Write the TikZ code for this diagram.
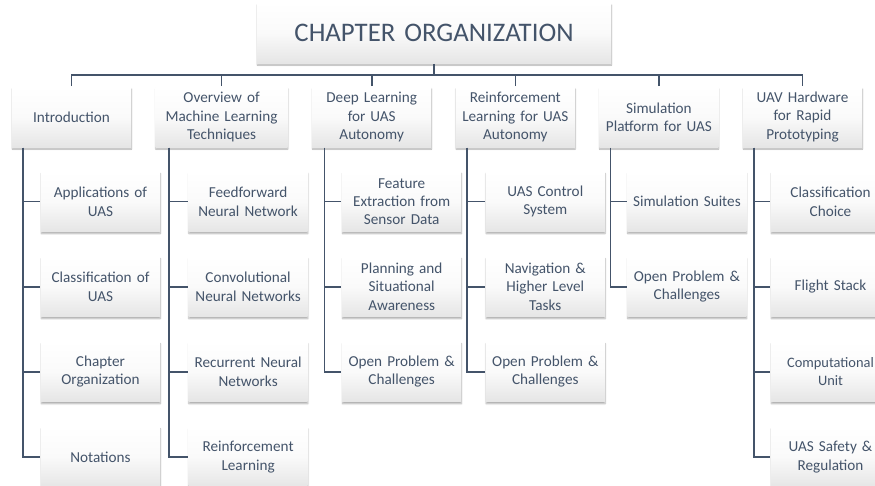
\documentclass[tikz,border=0pt]{standalone}
\usepackage{fontspec}
\setmainfont{Carlito}
\usepackage{tikz}
\usetikzlibrary{positioning,shadows.blur}
\definecolor{slate}{HTML}{44546A}

\begin{document}
\begin{tikzpicture}[x=1pt, y=1pt, node distance=23pt, line width=1.6pt, color=slate]

    \tikzstyle{topic}=[rectangle, minimum width=119pt, minimum height=60pt, text width=115pt, align=center, inner sep=0pt,
        top color=white, bottom color=black!10, middle color=black!2, text=slate, font=\fontsize{15.2}{18.4}\selectfont,
        blur shadow={shadow xshift=0.3pt, shadow yshift=-2pt, shadow blur radius=1.5pt, shadow blur steps=6, shadow opacity=32}]

    \useasboundingbox (0,0) rectangle (875,-485);

    \node[topic, minimum width=354pt, text width=340pt, font=\fontsize{26.8}{31}\selectfont] (chapter) at (434,-33) {CHAPTER ORGANIZATION};

    % section headers
    \node[topic]                                      (intro)              at (71.5,-117) {Introduction};
    \node[topic, minimum width=132pt, text width=126pt] (mlt) [right=of intro] {Overview of\\ Machine Learning\\ Techniques};
    \node[topic]                                      (dl)  [right=of mlt]   {Deep Learning\\ for UAS\\ Autonomy};
    \node[topic]                                      (rl)  [right=of dl]    {Reinforcement\\ Learning for UAS\\ Autonomy};
    \node[topic]                                      (sim) [right=of rl]    {Simulation\\ Platform for UAS};
    \node[topic]                                      (hw)  [right=of sim]   {UAV Hardware\\ for Rapid\\ Prototyping};

    % introduction
    \node[topic] (app)  [below right=23pt and 29pt of intro.south west] {Applications of\\ UAS};
    \node[topic] (cls)  [below=23.5pt of app]  {Classification of\\ UAS};
    \node[topic] (org)  [below=23.5pt of cls]  {Chapter\\ Organization};
    \node[topic] (nota) [below=23.5pt of org]  {Notations};

    % machine learning
    \node[topic] (ffn)  [below right=23pt and 33pt of mlt.south west] {Feedforward\\ Neural Network};
    \node[topic] (cnn)  [below=23.5pt of ffn]  {Convolutional\\ Neural Networks};
    \node[topic] (rnn)  [below=23.5pt of cnn]  {Recurrent Neural\\ Networks};
    \node[topic] (rfl)  [below=23.5pt of rnn]  {Reinforcement\\ Learning};

    % deep learning
    \node[topic] (feat) [below right=23pt and 30pt of dl.south west] {Feature\\ Extraction from\\ Sensor Data};
    \node[topic] (plan) [below=23.5pt of feat] {Planning and\\ Situational\\ Awareness};
    \node[topic] (dlop) [below=23.5pt of plan] {Open Problem \&\\ Challenges};

    % reinforcement learning
    \node[topic] (ctrl) [below right=23pt and 30pt of rl.south west] {UAS Control\\ System};
    \node[topic] (nav)  [below=23.5pt of ctrl] {Navigation \&\\ Higher Level\\ Tasks};
    \node[topic] (rlop) [below=23.5pt of nav]  {Open Problem \&\\ Challenges};

    % simulation
    \node[topic] (suite) [below right=23pt and 28pt of sim.south west] {Simulation Suites};
    \node[topic] (simop) [below=23.5pt of suite] {Open Problem \&\\ Challenges};

    % hardware
    \node[topic] (choice) [below right=23pt and 28pt of hw.south west] {Classification\\ Choice};
    \node[topic] (stack)  [below=23.5pt of choice] {Flight Stack};
    \node[topic, font=\fontsize{14.4}{18.4}\selectfont] (cpu) [below=23.5pt of stack] {Computational\\ Unit};
    \node[topic] (safety) [below=23.5pt of cpu]    {UAS Safety \&\\ Regulation};

    % tree lines
    \coordinate (bar) at (0,-75);
    \draw (chapter.south) -- (chapter.south |- bar);
    \draw (intro.north) -- (intro.north |- bar) -- (hw.north |- bar) -- (hw.north);
    \foreach \h in {mlt,dl,rl,sim}
        \draw (\h.north) -- (\h.north |- bar);

    \foreach \h/\s/\c in {intro/12/app, intro/12/cls, intro/12/org, intro/12/nota,
                          mlt/14/ffn, mlt/14/cnn, mlt/14/rnn, mlt/14/rfl,
                          dl/13/feat, dl/13/plan, dl/13/dlop,
                          rl/12/ctrl, rl/12/nav, rl/12/rlop,
                          sim/12/suite, sim/12/simop,
                          hw/12/choice, hw/12/stack, hw/12/cpu, hw/12/safety}
        \draw ([xshift=\s pt]\h.south west) |- (\c.west);

\end{tikzpicture}
\end{document}
